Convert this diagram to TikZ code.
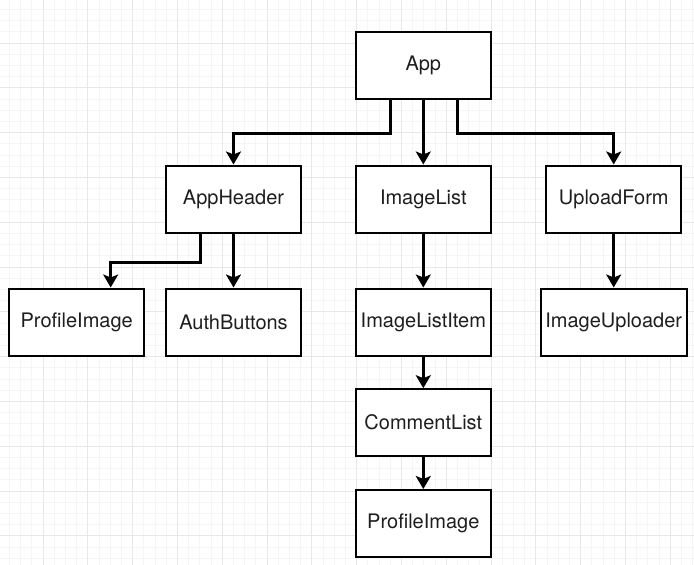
\documentclass[tikz,border=0pt]{standalone}
\usepackage{fontspec}
\setmainfont{TeX Gyre Heros}
\usetikzlibrary{arrows.meta}
\definecolor{gridmajor}{HTML}{E8E8EA}
\definecolor{gridminor}{HTML}{F5F5F7}
\definecolor{txt}{HTML}{1E1E1E}
\begin{document}
\begin{tikzpicture}
  [
    x=1pt, y=-1pt,
    font=\fontsize{20}{24}\selectfont,
    comp/.style={draw=black, line width=2pt, fill=white, text=txt,
      minimum width=135pt, minimum height=67pt, inner sep=0pt},
    arr/.style={line width=3pt, -{Stealth[length=13pt, width=15pt, inset=3pt]}}
  ]
  \useasboundingbox (0,0) rectangle (694,565);
  \fill [white] (0,0) rectangle (694,565);
  % grid
  \foreach \i in {-3,...,62}
    \draw [gridminor, line width=0.8pt] (43+11.2*\i,0) -- (43+11.2*\i,565);
  \foreach \i in {-3,...,47}
    \draw [gridminor, line width=0.8pt] (0,43+11.2*\i) -- (694,43+11.2*\i);
  \foreach \i in {-1,...,15}
    \draw [gridmajor, line width=1pt] (43+44.8*\i,0) -- (43+44.8*\i,565);
  \foreach \i in {-1,...,12}
    \draw [gridmajor, line width=1pt] (0,43+44.8*\i) -- (694,43+44.8*\i);
  % components
  \node [comp] (App)        at (423.3,  65.5) {App};
  \node [comp] (AppHeader)  at (233.5, 199.0) {AppHeader};
  \node [comp] (ImageList)  at (423.3, 199.0) {ImageList};
  \node [comp] (UploadForm) at (613.7, 199.0) {UploadForm};
  \node [comp] (ProfileA)   at ( 76.7, 322.0) {ProfileImage};
  \node [comp] (AuthBtns)   at (233.5, 322.0) {AuthButtons};
  \node [comp] (ListItem)   at (423.3, 322.0) {ImageListItem};
  \node [comp, minimum width=146pt] (Uploader) at (613.7, 322.0) {ImageUploader};
  \node [comp] (Comments)   at (423.3, 422.7) {CommentList};
  \node [comp] (ProfileB)   at (423.3, 523.5) {ProfileImage};
  % connectors
  \draw [arr] ([xshift=-32.6pt]App.south) -- ++(0,33.7) -| (AppHeader.north);
  \draw [arr] (App) -- (ImageList);
  \draw [arr] ([xshift=34pt]App.south) -- ++(0,33.7) -| (UploadForm.north);
  \draw [arr] ([xshift=-33.5pt]AppHeader.south) -- ++(0,28.7) -| ([xshift=34pt]ProfileA.north);
  \draw [arr] (AppHeader) -- (AuthBtns);
  \draw [arr] (ImageList) -- (ListItem);
  \draw [arr] (UploadForm) -- (Uploader);
  \draw [arr] (ListItem) -- (Comments);
  \draw [arr] (Comments) -- (ProfileB);
\end{tikzpicture}
\end{document}
